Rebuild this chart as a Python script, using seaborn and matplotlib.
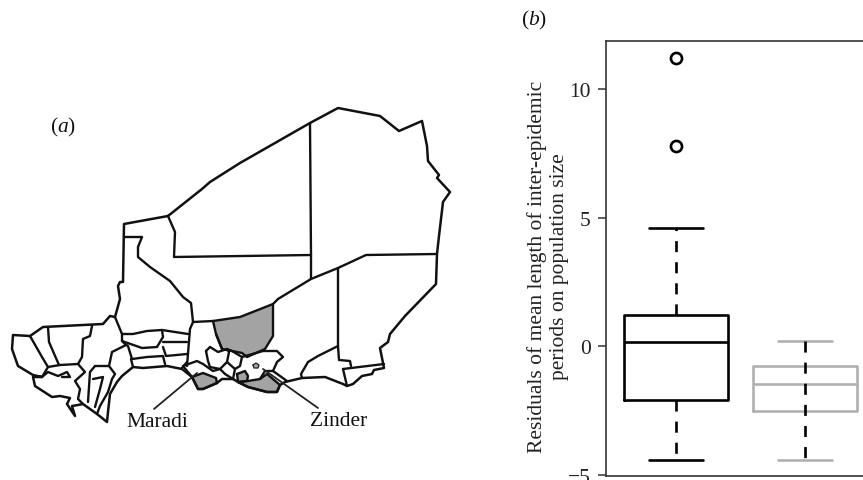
import matplotlib
matplotlib.use('Agg')
import matplotlib.pyplot as plt
import pandas as pd
import seaborn as sns

# box data
groups = ['Maradi', 'Zinder']
values_maradi = [-4.4, -3.5, -2.8, -2.1, -1.2, -0.5, 0.15, 0.5, 0.9, 1.2, 4.6, 7.8, 11.2]
values_zinder = [-4.4, -2.5, -1.45, -0.75, 0.2]
yticks = [-5, 0, 5, 10]

# map outlines in picture pixels, panel (a)
outline = [(168, 217), (202, 190), (210, 183), (240, 164), (310, 124), (338, 109), (380, 117), (399, 132),
           (422, 122), (427, 147), (428, 162), (439, 176), (437, 179), (450, 193), (443, 203), (439, 237),
           (437, 255), (436, 285), (405, 317), (390, 335), (388, 343), (380, 349), (384, 369), (374, 371),
           (372, 375), (362, 377), (353, 385), (347, 387), (343, 385), (325, 378), (302, 379), (285, 383),
           (280, 386), (277, 393), (267, 393), (248, 388), (238, 383), (233, 380), (222, 380), (217, 384),
           (203, 390), (198, 390), (192, 378), (182, 370), (167, 367), (143, 369), (133, 368), (122, 377),
           (117, 383), (110, 395), (108, 413), (107, 423), (97, 415), (83, 405), (78, 406), (72, 407), (75, 417),
           (67, 405), (70, 399), (60, 397), (52, 398), (35, 387), (33, 378), (42, 378), (33, 376), (18, 367),
           (12, 350), (13, 336), (30, 337), (43, 328), (103, 325), (110, 317), (115, 318), (120, 300),
           (118, 287), (120, 283), (123, 283), (124, 225), (168, 217)]
gray_north = [(213, 322), (240, 318), (273, 305), (273, 337), (265, 350), (247, 358), (242, 354), (222, 350),
              (216, 335), (213, 322)]
gray_maradi = [(192, 378), (198, 390), (203, 390), (217, 384), (216, 379), (203, 374), (192, 378)]
gray_square = [(237, 375), (238, 383), (247, 382), (248, 377), (245, 372), (237, 375)]
gray_zinder = [(238, 383), (248, 388), (267, 393), (277, 393), (280, 386), (267, 375), (260, 380), (248, 382),
               (238, 383)]
borders = [
    [(168, 217), (175, 233), (174, 258), (311, 256)],
    [(310, 124), (311, 256), (311, 280)],
    [(273, 305), (278, 300), (311, 280), (338, 269), (366, 256), (437, 255)],
    [(338, 269), (338, 347), (339, 361), (350, 362), (351, 367)],
    [(338, 347), (318, 357), (308, 363), (301, 375), (302, 379)],
    [(343, 370), (384, 365)],
    [(343, 370), (347, 387)],
    [(124, 238), (142, 238), (138, 248), (138, 258), (150, 268), (170, 282), (183, 298), (191, 304), (193, 323),
     (190, 330), (187, 367)],
    [(193, 323), (213, 322)],
    [(122, 335), (133, 335), (147, 332), (162, 331), (188, 335)],
    [(122, 342), (142, 349), (157, 348), (163, 338), (162, 331)],
    [(163, 343), (187, 343)],
    [(115, 318), (122, 335), (122, 342), (125, 345), (128, 347), (132, 360), (147, 358), (163, 357), (165, 365)],
    [(163, 348), (166, 357), (187, 355)],
    [(131, 360), (133, 368)],
    [(182, 369), (187, 363)],
    [(48, 328), (49, 343), (59, 366)],
    [(30, 337), (42, 358), (48, 368), (42, 378)],
    [(48, 368), (60, 366), (78, 365), (85, 373), (75, 382), (80, 390), (78, 400), (83, 405)],
    [(92, 327), (90, 337), (83, 340), (82, 358), (78, 365)],
    [(126, 346), (112, 353), (109, 367), (115, 375), (112, 380), (108, 393), (100, 407), (97, 415)],
    [(95, 367), (90, 373), (88, 403)],
    [(95, 367), (108, 367)],
    [(93, 380), (103, 378), (100, 390), (95, 408)],
    [(42, 378), (48, 373), (58, 377), (67, 373), (70, 378), (62, 378)],
    [(183, 367), (197, 362), (203, 365), (213, 372), (220, 370), (225, 375), (233, 380)],
    [(206, 352), (208, 362), (210, 368), (220, 370), (227, 363), (229, 353), (227, 350), (218, 353), (210, 348),
     (206, 352)],
    [(227, 350), (232, 352), (242, 358), (240, 367), (235, 370), (233, 380)],
    [(227, 363), (235, 370)],
    [(242, 358), (263, 352), (277, 352), (283, 358), (277, 363), (273, 372), (287, 382)],
    [(273, 372), (265, 372), (260, 380)],
    [(222, 350), (216, 335)],
    [(192, 378), (183, 367)],
]
circle = [(253, 366), (256, 364), (259, 366), (258, 369), (254, 369), (253, 366)]
leader_maradi = [(154, 410), (197, 374)]
leader_zinder = [(318, 409), (263, 370)]

sns.set_style('white')
plt.rcParams['font.family'] = ['Liberation Serif', 'DejaVu Serif']
plt.rcParams['mathtext.fontset'] = 'custom'
plt.rcParams['mathtext.it'] = 'Liberation Serif:italic'
plt.rcParams['mathtext.rm'] = 'Liberation Serif'

fig = plt.figure(figsize=(8.63, 4.81), dpi=100)
fs = 15.5

# panel (a), axes in pixels of the picture
ax_map = fig.add_axes([0, 0, 1, 1])
ax_map.set_xlim(0, 863)
ax_map.set_ylim(481, 0)
ax_map.axis('off')
for patch in [gray_north, gray_maradi, gray_square, gray_zinder]:
    ax_map.fill(*zip(*patch), color='#a3a3a3', lw=0)
    ax_map.plot(*zip(*patch), color='#111111', lw=1.7)
for line in borders:
    ax_map.plot(*zip(*line), color='#111111', lw=1.7, solid_joinstyle='round')
ax_map.plot(*zip(*outline), color='#111111', lw=1.8, solid_joinstyle='round')
ax_map.fill(*zip(*circle), color='#a3a3a3', lw=0)
ax_map.plot(*zip(*circle), color='#222222', lw=0.9)
ax_map.plot(*zip(*leader_maradi), color='#222222', lw=1.3)
ax_map.plot(*zip(*leader_zinder), color='#222222', lw=1.3)
ax_map.text(157, 422.5, 'Maradi', fontsize=fs, ha='center', va='center', color='#111111')
ax_map.text(339, 421.5, 'Zinder', fontsize=fs, ha='center', va='center', color='#111111')
ax_map.text(63, 127, r'($\mathit{a}$)', fontsize=fs, ha='center', va='center', color='#111111')
ax_map.text(534, 20, r'($\mathit{b}$)', fontsize=fs, ha='center', va='center', color='#111111')

# panel (b)
ax = fig.add_axes([606 / 863, 4 / 481, 257 / 863, 435 / 481])
df = pd.DataFrame({'group': ['Maradi'] * len(values_maradi) + ['Zinder'] * len(values_zinder),
                   'value': values_maradi + values_zinder})

sns.boxplot(data=df[df.group == 'Maradi'], x='group', y='value', order=groups, ax=ax, color='black', fill=False,
            width=0.81, linewidth=1.9, capwidths=0.42, fliersize=8,
            whiskerprops={'linestyle': (0, (4.2, 3.8))},
            flierprops={'markeredgewidth': 1.9, 'markeredgecolor': 'black'})
sns.boxplot(data=df[df.group == 'Zinder'], x='group', y='value', order=groups, ax=ax, color='#b0b0b0', fill=False,
            width=0.81, linewidth=1.9, capwidths=0.42, whiskerprops={'linestyle': 'none'})
# the dashed whisker of the second box runs through the box
ax.plot([1, 1], [max(values_zinder), min(values_zinder)], color='black', lw=1.9, ls=(0, (4.2, 3.8)), zorder=5)

ax.set_xlim(-0.543, 1.45)
ax.set_ylim(-5.04, 11.87)
ax.set_xticks([])
ax.set_yticks(yticks)
ax.set_xlabel('')
ax.set_ylabel('')
ax.patch.set_alpha(0)
ax.tick_params(axis='y', left=True, length=6, width=1.1, color='#333333', labelsize=fs, pad=5, labelcolor='#222222')
ax.spines['right'].set_visible(False)
for s in ['left', 'top', 'bottom']:
    ax.spines[s].set_linewidth(1.2)
    ax.spines[s].set_color('#333333')

fig.text(548 / 863, 1 - 267 / 481, 'Residuals of mean length of inter-epidemic\nperiods on population size',
         rotation=90, ha='center', va='center', multialignment='center', fontsize=fs, color='#222222', linespacing=1.18)

fig.savefig('out.png', dpi=100)
